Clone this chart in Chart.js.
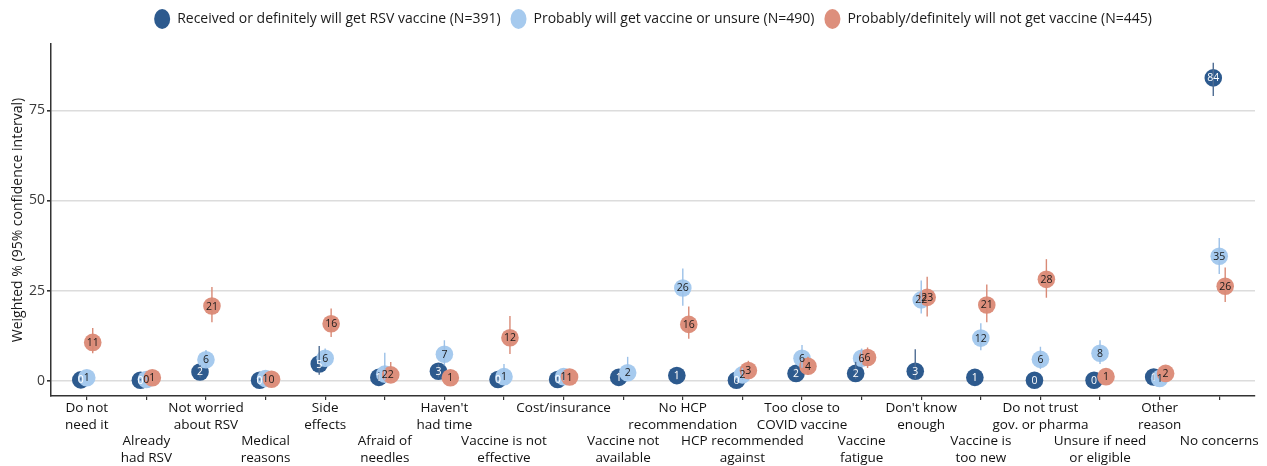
<!DOCTYPE html>
<html>
<head>
<meta charset="utf-8">
<script src="https://cdn.jsdelivr.net/npm/chart.js@4.4.1/dist/chart.umd.min.js"></script>
<style>
  html, body { margin: 0; padding: 0; background: #ffffff; }
  #wrap { width: 1267px; height: 466px; position: relative; }
</style>
</head>
<body>
<div id="wrap"><canvas id="c" width="1267" height="466"></canvas></div>
<script>
// Reasons for not getting / hesitating about the RSV vaccine, by intention group
const categories = [
  ['Do not', 'need it'],
  ['Already', 'had RSV'],
  ['Not worried', 'about RSV'],
  ['Medical', 'reasons'],
  ['Side', 'effects'],
  ['Afraid of', 'needles'],
  ["Haven't", 'had time'],
  ['Vaccine is not', 'effective'],
  ['Cost/insurance'],
  ['Vaccine not', 'available'],
  ['No HCP', 'recommendation'],
  ['HCP recommended', 'against'],
  ['Too close to', 'COVID vaccine'],
  ['Vaccine', 'fatigue'],
  ["Don't know", 'enough'],
  ['Vaccine is', 'too new'],
  ['Do not trust', 'gov. or pharma'],
  ['Unsure if need', 'or eligible'],
  ['Other', 'reason'],
  ['No concerns']
];

const seriesNames = [
  'Received or definitely will get RSV vaccine (N=391)',
  'Probably will get vaccine or unsure (N=490)',
  'Probably/definitely will not get vaccine (N=445)'
];

// Weighted % per reason
const receivedPct = [0.2, 0.1, 2.4, 0.1, 4.6, 0.9, 2.6, 0.3, 0.3, 0.9, 1.4, 0.1, 2.0, 2.0, 2.6, 0.9, 0.1, 0.1, 1.0, 84.0];
const probablyPct = [0.8, 0.3, 5.8, 0.6, 6.2, 1.8, 7.3, 1.1, 1.1, 2.2, 25.7, 1.6, 6.2, 6.2, 22.4, 11.8, 5.9, 7.6, 0.6, 34.5];
const notGetPct   = [10.6, 0.8, 20.7, 0.4, 15.8, 1.6, 0.8, 11.9, 1.0, null, 15.6, 2.8, 4.0, 6.4, 23.1, 21.0, 28.1, 1.1, 2.0, 26.2];

// 95% confidence intervals (lower / upper)
const receivedLo = [0, 0, 0.9, 0, 1.6, 0, 0.9, 0, 0, 0, 0.2, 0, 0.6, 0.5, 0.3, 0, 0, 0, 0.1, 79.0];
const receivedHi = [0.9, 0.5, 4.3, 0.6, 9.6, 2.4, 4.6, 1.0, 1.0, 2.3, 3.0, 0.6, 3.8, 5.2, 8.7, 2.0, 0.6, 0.6, 2.3, 88.2];
const probablyLo = [0, 0, 3.5, 0, 3.9, 0, 4.2, 0, 0, 0.4, 20.8, 0.2, 3.6, 3.7, 18.6, 8.4, 3.2, 4.6, 0, 29.6];
const probablyHi = [2.0, 1.0, 8.5, 1.6, 8.9, 7.7, 11.2, 4.6, 2.6, 6.6, 31.1, 3.5, 9.9, 8.9, 27.8, 15.9, 9.4, 11.2, 1.6, 39.6];
const notGetLo   = [7.6, 0, 16.2, 0, 12.1, 0, 0, 7.4, 0, null, 11.6, 0.6, 1.6, 3.5, 17.8, 16.2, 23.0, 0.1, 0.4, 21.8];
const notGetHi   = [14.6, 2.0, 26.0, 1.2, 20.0, 5.2, 2.0, 17.9, 2.4, null, 20.6, 5.5, 6.6, 9.2, 28.8, 26.7, 33.7, 2.5, 4.0, 31.4];

const yTicks = [0, 25, 50, 75];

const colors = ['#2d5a8e', '#a6caee', '#dd8f7c'];
const barColors = ['#4f6d93', '#9cc1e8', '#d98a76'];
const labelColors = ['#ffffff', '#1a1a1a', '#1a1a1a'];

const values = [receivedPct, probablyPct, notGetPct];
const lows = [receivedLo, probablyLo, notGetLo];
const highs = [receivedHi, probablyHi, notGetHi];

// horizontal dodge (in category units) for groups sharing a reason
function dodge(seriesIdx, catIdx) {
  const idxs = values.map((v, i) => v[catIdx] !== null ? i : -1).filter(i => i >= 0);
  const n = idxs.length;
  const w = 0.3;
  const pos = idxs.indexOf(seriesIdx);
  return (pos - (n - 1) / 2) * (w / n);
}

const datasets = values.map((vals, s) => ({
  label: seriesNames[s],
  data: vals.map((v, i) => ({ v, i }))
            .filter(d => d.v !== null)
            .map(d => ({ x: d.i + dodge(s, d.i), y: d.v })),
  backgroundColor: colors[s],
  borderColor: colors[s],
  borderWidth: 0,
  pointRadius: 8.8,
  pointHoverRadius: 8.8,
  pointStyle: 'circle',
  showLine: false,
  order: 3 - s
}));

// extra space between the legend row and the plot panel
const legendGap = {
  id: 'legendGap',
  beforeLayout(chart) {
    const lg = chart.legend;
    if (lg && !lg.__gapped) {
      const fit = lg.fit;
      lg.fit = function () { fit.call(this); this.height += 8; };
      lg.__gapped = true;
    }
  }
};

// confidence-interval lines, then value labels, on top of the points
const ciAndLabels = {
  id: 'ciAndLabels',
  afterDatasetsDraw(chart) {
    const ctx = chart.ctx;
    const xs = chart.scales.x, ys = chart.scales.y;
    ctx.save();
    ctx.lineWidth = 1.4;
    values.forEach((vals, s) => {
      ctx.strokeStyle = barColors[s];
      vals.forEach((v, i) => {
        if (v === null || lows[s][i] === null) return;
        const px = xs.getPixelForValue(i + dodge(s, i));
        ctx.beginPath();
        ctx.moveTo(px, ys.getPixelForValue(lows[s][i]));
        ctx.lineTo(px, ys.getPixelForValue(highs[s][i]));
        ctx.stroke();
      });
    });
    ctx.font = '10.5px "Open Sans", "Liberation Sans", sans-serif';
    ctx.textAlign = 'center';
    ctx.textBaseline = 'middle';
    values.forEach((vals, s) => {
      ctx.fillStyle = labelColors[s];
      vals.forEach((v, i) => {
        if (v === null) return;
        const px = xs.getPixelForValue(i + dodge(s, i));
        const py = ys.getPixelForValue(v);
        ctx.fillText(String(Math.round(v)), px, py + 0.5);
      });
    });
    ctx.restore();
  }
};

new Chart(document.getElementById('c'), {
  type: 'scatter',
  data: { datasets },
  plugins: [legendGap, ciAndLabels],
  options: {
    responsive: false,
    animation: false,
    devicePixelRatio: 1,
    layout: { padding: { left: 0, right: 12, top: 2, bottom: 0 } },
    plugins: {
      tooltip: { enabled: false },
      legend: {
        position: 'top',
        fullSize: false,
        labels: {
          usePointStyle: true,
          pointStyleWidth: 16,
          boxHeight: 14,
          padding: 10,
          color: '#1a1a1a',
          font: { family: '"Open Sans", "Liberation Sans", sans-serif', size: 14 },
          sort: (a, b) => a.datasetIndex - b.datasetIndex
        }
      }
    },
    scales: {
      x: {
        type: 'linear',
        min: -0.6,
        max: categories.length - 0.4,
        border: { display: true, color: '#333333', width: 1.5 },
        grid: { display: true, drawOnChartArea: false, drawTicks: true, tickLength: 4, tickColor: '#333333', lineWidth: 1.2 },
        afterBuildTicks: (scale) => { scale.ticks = categories.map((_, i) => ({ value: i })); },
        ticks: {
          autoSkip: false,
          maxRotation: 0,
          minRotation: 0,
          padding: 0,
          color: '#111111',
          font: { family: '"Open Sans", "Liberation Sans", sans-serif', size: 13.5, lineHeight: 1.22 },
          callback: (value) => {
            const i = Math.round(value);
            const lines = categories[i] || [];
            return i % 2 === 1 ? ['', ''].concat(lines) : lines;
          }
        }
      },
      y: {
        min: -4.3,
        max: 93.4,
        afterFit: (scale) => { scale.width = 51; },
        afterBuildTicks: (scale) => { scale.ticks = yTicks.map(v => ({ value: v })); },
        border: { display: true, color: '#333333', width: 1.5 },
        grid: { color: '#dcdcdc', lineWidth: 1.6, drawTicks: true, tickLength: 4, tickColor: '#333333' },
        ticks: {
          padding: 2,
          color: '#3a3a3a',
          font: { family: '"Open Sans", "Liberation Sans", sans-serif', size: 14 }
        },
        title: {
          display: true,
          text: 'Weighted % (95% confidence interval)',
          color: '#1a1a1a',
          padding: { top: 10, bottom: 0 },
          font: { family: '"Open Sans", "Liberation Sans", sans-serif', size: 14 }
        }
      }
    }
  }
});
</script>
</body>
</html>
